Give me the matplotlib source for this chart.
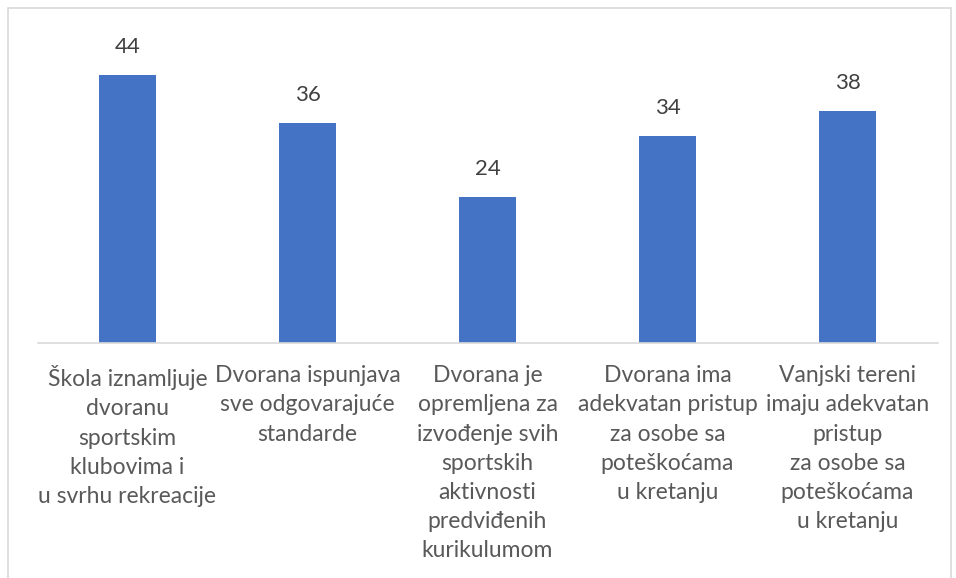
import matplotlib
matplotlib.use("Agg")
import matplotlib.pyplot as plt
from matplotlib.patches import Rectangle

categories = [
    "Škola iznamljuje\ndvoranu\nsportskim\nklubovima i\nu svrhu rekreacije",
    "Dvorana ispunjava\nsve odgovarajuće\nstandarde",
    "Dvorana je\nopremljena za\nizvođenje svih\nsportskih\naktivnosti\npredviđenih\nkurikulumom",
    "Dvorana ima\nadekvatan pristup\nza osobe sa\npoteškoćama\nu kretanju",
    "Vanjski tereni\nimaju adekvatan\npristup\nza osobe sa\npoteškoćama\nu kretanju",
]
values = [44, 36, 24, 34, 38]

plt.rcParams['font.family'] = ['Lato', 'DejaVu Sans']
W, H = 956, 578
fig = plt.figure(figsize=(W/100, H/100), dpi=100)
fig.patch.set_facecolor('white')

# outer frame
fig.patches.append(Rectangle((8/W, -0.01), (951-8)/W, 1 - 8/H + 0.01, transform=fig.transFigure,
                             fill=False, edgecolor='#d9d9d9', linewidth=1.2))

ax = fig.add_axes([37.5/W, 235/H, 900/W, 305/H])
x = list(range(len(values)))
bars = ax.bar(x, values, width=0.317, color='#4472C4')
ax.set_xlim(-0.5, len(values) - 0.5)
ax.set_ylim(0, 50)
for s in ['top', 'right', 'left']:
    ax.spines[s].set_visible(False)
ax.spines['bottom'].set_color('#d9d9d9')
ax.spines['bottom'].set_linewidth(1.2)
ax.set_yticks([])
ax.set_xticks(x)
ax.set_xticklabels(categories, color='#595959', fontsize=16.5, linespacing=1.48)
ax.tick_params(axis='x', length=0, pad=16)

for xi, v in zip(x, values):
    ax.annotate(str(v), (xi, v), xytext=(0, 13), textcoords='offset points',
                ha='center', va='bottom', fontsize=16, color='#404040')

fig.savefig('out.png', dpi=100)
